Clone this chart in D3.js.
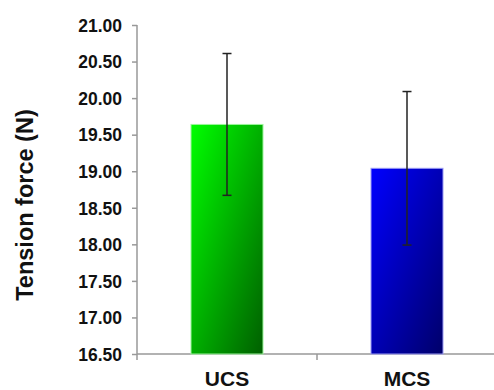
<!DOCTYPE html>
<html>
<head>
<meta charset="utf-8">
<script src="https://d3js.org/d3.v7.min.js"></script>
<style>
  body { margin: 0; background: #fff; }
  svg text { font-family: "Liberation Sans", Arial, sans-serif; font-weight: bold; fill: #111; }
</style>
</head>
<body>
<svg id="chart" width="494" height="390"></svg>
<script>
// data
const groups = ["UCS", "MCS"];
const means = [19.64, 19.04];
const errors = [0.97, 1.05];
const yTicks = [16.5, 17, 17.5, 18, 18.5, 19, 19.5, 20, 20.5, 21];
const topColors = ["#00ff00", "#0000ff"];
const bottomColors = ["#005f00", "#00006a"];
const edgeColors = ["#9cf59c", "#9c9cf5"];

const svg = d3.select("#chart");
const plotLeft = 137, plotRight = 497, plotTop = 25, base = 354;

const x = d3.scaleBand()
    .domain(groups)
    .range([plotLeft, plotRight])
    .paddingInner(0.6)
    .paddingOuter(0.3);

const y = d3.scaleLinear()
    .domain([16.5, 21])
    .range([base, plotTop]);

// gradients, light top-left to dark bottom-right
const defs = svg.append("defs");
groups.forEach(function(g, i) {
  const grad = defs.append("linearGradient")
      .attr("id", "grad" + i)
      .attr("x1", "0%").attr("y1", "0%")
      .attr("x2", "100%").attr("y2", "100%");
  grad.append("stop").attr("offset", "0%").attr("stop-color", topColors[i]);
  grad.append("stop").attr("offset", "100%").attr("stop-color", bottomColors[i]);
});

// y axis
const yAxis = d3.axisLeft(y)
    .tickValues(yTicks)
    .tickFormat(d3.format(".2f"))
    .tickSize(5)
    .tickSizeOuter(0)
    .tickPadding(10);

const gy = svg.append("g")
    .attr("transform", "translate(" + plotLeft + ",0)")
    .call(yAxis);
gy.select(".domain").remove();
gy.selectAll(".tick line").attr("stroke", "#999").attr("stroke-width", 1.5);
gy.selectAll(".tick text").style("font-size", "17.5px").attr("dy", "0.36em");

svg.append("line")
    .attr("x1", plotLeft).attr("x2", plotLeft)
    .attr("y1", y(21)).attr("y2", base + 6)
    .attr("stroke", "#999").attr("stroke-width", 1.5);

// x axis
svg.append("line")
    .attr("x1", plotLeft).attr("x2", 494)
    .attr("y1", base).attr("y2", base)
    .attr("stroke", "#999").attr("stroke-width", 1.5);

const midX = x("UCS") + x.step() / 2 + x.bandwidth() / 2;
svg.append("line")
    .attr("x1", midX).attr("x2", midX)
    .attr("y1", base).attr("y2", base + 6)
    .attr("stroke", "#999").attr("stroke-width", 1.5);

svg.selectAll(".xlabel")
  .data(groups)
  .enter()
  .append("text")
    .attr("x", function(d) { return x(d) + x.bandwidth() / 2; })
    .attr("y", 386)
    .attr("text-anchor", "middle")
    .style("font-size", "21px")
    .text(function(d) { return d; });

// bars
svg.selectAll(".bar")
  .data(means)
  .enter()
  .append("rect")
    .attr("x", function(d, i) { return x(groups[i]); })
    .attr("y", function(d) { return y(d); })
    .attr("width", x.bandwidth())
    .attr("height", function(d) { return base - y(d); })
    .attr("fill", function(d, i) { return "url(#grad" + i + ")"; })
    .attr("stroke", function(d, i) { return edgeColors[i]; })
    .attr("stroke-width", 1);

// error bars
const err = svg.append("g").attr("stroke", "#222").attr("stroke-width", 1.5);
means.forEach(function(m, i) {
  const cx = x(groups[i]) + x.bandwidth() / 2;
  err.append("line")
      .attr("x1", cx).attr("x2", cx)
      .attr("y1", y(m + errors[i])).attr("y2", y(m - errors[i]));
  [m + errors[i], m - errors[i]].forEach(function(v) {
    err.append("line")
        .attr("x1", cx - 4.5).attr("x2", cx + 4.5)
        .attr("y1", y(v)).attr("y2", y(v));
  });
});

// y label
svg.append("text")
    .attr("transform", "translate(33," + 205 + ") rotate(-90)")
    .attr("text-anchor", "middle")
    .style("font-size", "23.5px")
    .text("Tension force (N)");
</script>
</body>
</html>
